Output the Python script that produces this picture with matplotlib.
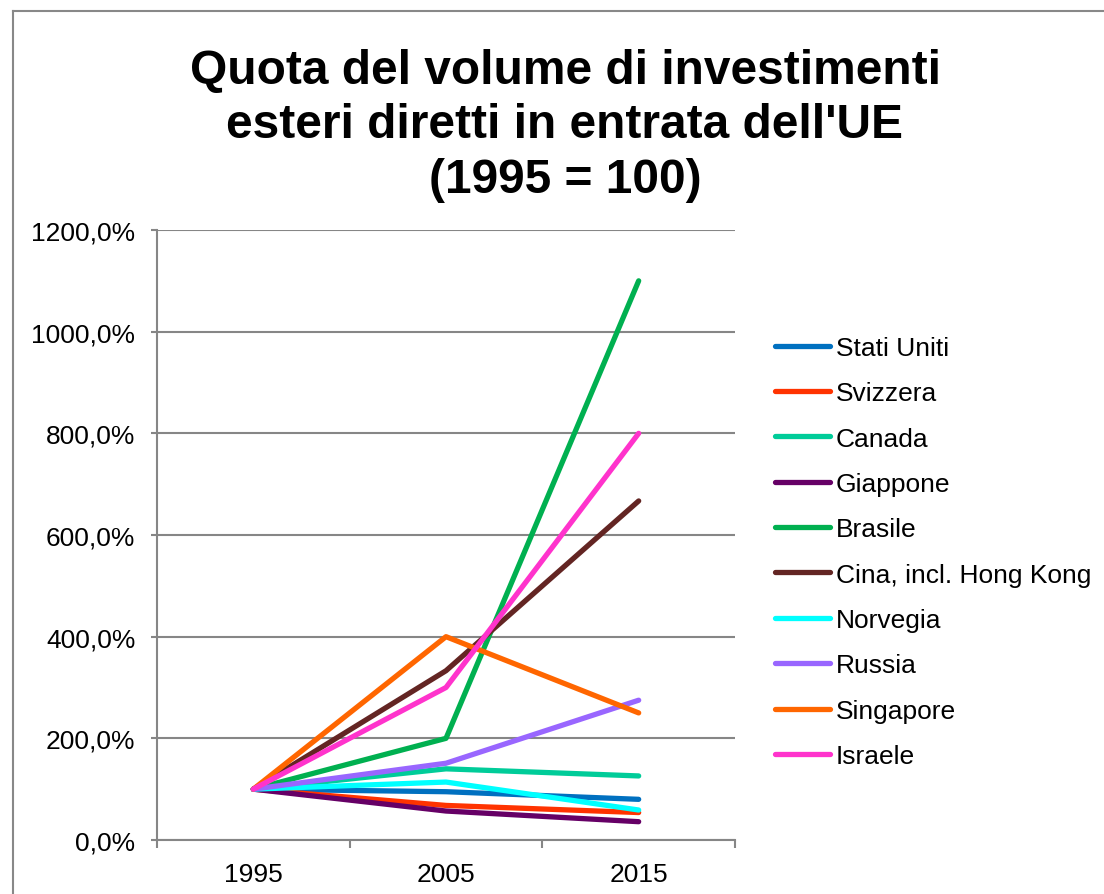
import matplotlib
matplotlib.use("Agg")
import matplotlib.pyplot as plt
from matplotlib.lines import Line2D
from matplotlib.ticker import FuncFormatter, FixedLocator

plt.rcParams['font.family'] = ['Liberation Sans', 'DejaVu Sans']

years = ['1995', '2005', '2015']
stati_uniti = [100, 95, 80]
svizzera = [100, 68, 54]
canada = [100, 140, 126]
giappone = [100, 57, 36]
brasile = [100, 200, 1100]
cina = [100, 333, 667]
norvegia = [100, 114, 59]
russia = [100, 151, 275]
singapore = [100, 400, 250]
israele = [100, 300, 800]

series_names = ['Stati Uniti', 'Svizzera', 'Canada', 'Giappone', 'Brasile',
                'Cina, incl. Hong Kong', 'Norvegia', 'Russia', 'Singapore', 'Israele']
series_values = [stati_uniti, svizzera, canada, giappone, brasile,
                 cina, norvegia, russia, singapore, israele]
colors = ['#0070C0', '#FF3300', '#00CC99', '#660066', '#00B050',
          '#632523', '#00FFFF', '#9966FF', '#FF6600', '#FF33CC']

W, H = 1104, 895
fig = plt.figure(figsize=(W / 100, H / 100), dpi=100)
fig.patch.set_facecolor('white')

# outer chart border (cropped)
gray = '#888888'
fig.add_artist(Line2D([13 / W, 13 / W], [1 - 12 / H, -0.1], color=gray, lw=1.5,
                      transform=fig.transFigure))
fig.add_artist(Line2D([13 / W, 1.1], [1 - 12 / H, 1 - 12 / H], color=gray, lw=1.5,
                      transform=fig.transFigure))

left, right, top, bottom = 157, 735, 231, 841
ax = fig.add_axes([left / W, 1 - bottom / H, (right - left) / W, (bottom - top) / H])

x = list(range(len(years)))
for name, vals, c in zip(series_names, series_values, colors):
    ax.plot(x, vals, color=c, lw=3.8, label=name, solid_capstyle='round',
            solid_joinstyle='round')

ax.set_xlim(-0.5, len(years) - 0.5)
ax.set_ylim(0, 1200)
ax.set_yticks(range(0, 1201, 200))
ax.yaxis.set_major_formatter(FuncFormatter(lambda v, p: f"{v:.1f}%".replace('.', ',')))
ax.yaxis.grid(True, color='#868686', lw=1.5)
ax.set_axisbelow(True)

ax.set_xticks(x)
ax.set_xticklabels(years)
ax.xaxis.set_minor_locator(FixedLocator([i - 0.5 for i in range(len(years) + 1)]))
ax.tick_params(axis='x', which='major', length=0, pad=16, labelsize=19)
ax.tick_params(axis='x', which='minor', length=6, width=1.5, color='#868686', direction='out')
ax.tick_params(axis='y', which='major', length=4.5, width=1.5, color='#868686', pad=11, labelsize=19)

for s in ['top', 'right']:
    ax.spines[s].set_visible(False)
for s in ['left', 'bottom']:
    ax.spines[s].set_color('#868686')
    ax.spines[s].set_linewidth(1.5)

fig.text(565 / W, 1 - 126 / H,
         "Quota del volume di investimenti\nesteri diretti in entrata dell'UE\n(1995 = 100)",
         ha='center', va='center', fontsize=34.5, fontweight='bold', linespacing=1.27)

leg = fig.legend(loc='center left', bbox_to_anchor=(775 / W, 1 - 553 / H),
                 frameon=False, fontsize=19, handlelength=2.1, handletextpad=0.2,
                 labelspacing=0.81, borderpad=0, borderaxespad=0)
for l in leg.get_lines():
    l.set_linewidth(3.8)
    l.set_solid_capstyle('round')

fig.savefig('out.png', dpi=100)
